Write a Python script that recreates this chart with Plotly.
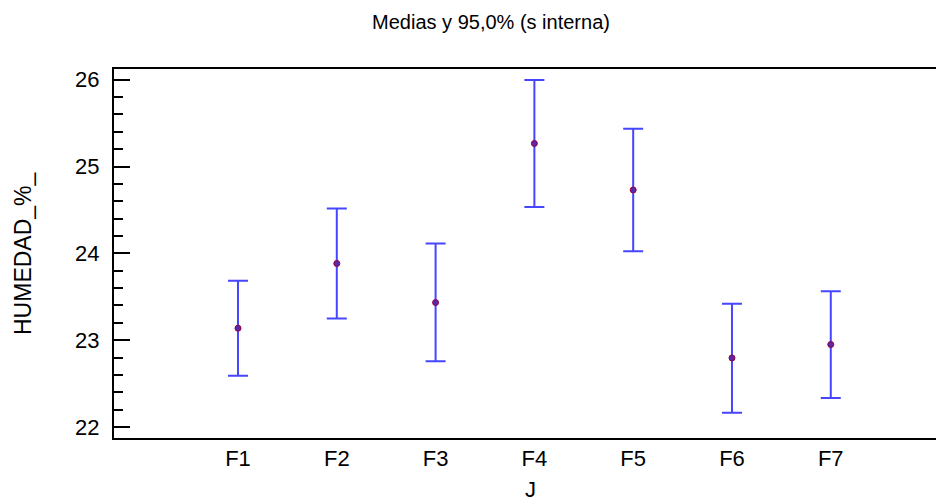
import plotly.graph_objects as go

categories = ["F1", "F2", "F3", "F4", "F5", "F6", "F7"]
means = [23.137, 23.883, 23.433, 25.265, 24.730, 22.795, 22.950]
upper = [23.685, 24.515, 24.112, 25.996, 25.435, 23.419, 23.562]
lower = [22.589, 23.250, 22.758, 24.535, 24.023, 22.165, 22.335]
y_ticks = [22, 23, 24, 25, 26]

x_pos = list(range(1, len(categories) + 1))
err_plus = [u - m for u, m in zip(upper, means)]
err_minus = [m - l for m, l in zip(means, lower)]

FONT = "Liberation Sans, Arial, sans-serif"
blue = "rgb(70,70,255)"

# figure sits inside the page body (8px default body margin)
W, H = 936, 490
L, R, T, B = 106, 0, 61, 60
PW, PH = W - L - R, H - T - B

fig = go.Figure()
fig.add_trace(go.Scatter(
    x=x_pos, y=means, mode="markers",
    marker=dict(symbol="circle", size=6, color="rgb(90,40,170)",
                line=dict(color="rgb(150,0,60)", width=1)),
    error_y=dict(type="data", symmetric=False, array=err_plus, arrayminus=err_minus,
                 color=blue, thickness=2, width=10),
    showlegend=False, hoverinfo="skip",
))
fig.add_trace(go.Scatter(x=[x_pos[0]], y=[means[0]], yaxis="y2", mode="markers",
                         marker=dict(opacity=0), showlegend=False, hoverinfo="skip"))

yr = [21.873, 26.123]
fig.update_layout(
    width=W, height=H,
    margin=dict(l=L, r=R, t=T, b=B, pad=0, autoexpand=False),
    paper_bgcolor="white", plot_bgcolor="white",
    font=dict(family=FONT, size=22, color="black"),
    title=dict(text="Medias y 95,0% (s interna)", x=(483 - L) / PW, xref="paper", xanchor="center",
               y=1 - 14 / H, yref="container", yanchor="middle", automargin=False,
               font=dict(family=FONT, size=20, color="black")),
    xaxis=dict(range=[-0.255, 8.146], tickvals=x_pos, ticktext=categories,
               showline=True, linecolor="black", linewidth=2, mirror=True,
               ticks="", showgrid=False, zeroline=False, automargin=False,
               tickfont=dict(size=22), ticklabelstandoff=0),
    yaxis=dict(range=yr, tickvals=y_ticks, showline=True, linecolor="black", linewidth=2,
               mirror=False, ticks="inside", ticklen=16, tickwidth=2, tickcolor="black",
               minor=dict(dtick=0.2, ticks="inside", ticklen=9, tickwidth=2, tickcolor="black",
                          showgrid=False),
               showgrid=False, zeroline=False, ticklabelstandoff=8, automargin=False,
               tickfont=dict(size=22)),
    yaxis2=dict(range=yr, tickvals=y_ticks, overlaying="y", side="right",
                showline=False, ticks="inside", ticklen=6, tickwidth=2, tickcolor="black",
                showticklabels=False, showgrid=False, zeroline=False, automargin=False),
    annotations=[
        dict(text="HUMEDAD_%_", textangle=-90, xref="paper", yref="paper",
             x=(15 - L) / PW, y=(H - B - 245) / PH, xanchor="center", yanchor="middle",
             showarrow=False, font=dict(family=FONT, size=23)),
        dict(text="J", xref="paper", yref="paper",
             x=(522 - L) / PW, y=(H - B - 482) / PH, xanchor="center", yanchor="middle",
             showarrow=False, font=dict(family=FONT, size=22)),
    ],
)

fig.write_html("out.html")
